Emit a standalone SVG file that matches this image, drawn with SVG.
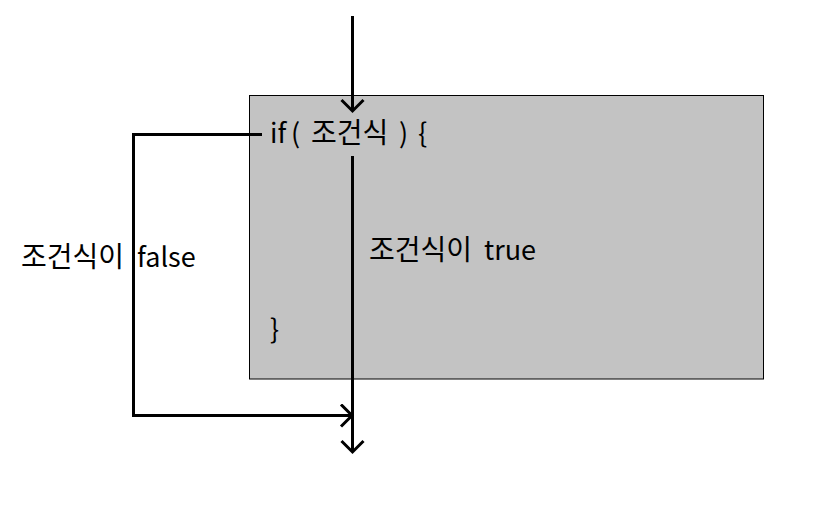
<svg xmlns="http://www.w3.org/2000/svg" width="836" height="512" viewBox="0 0 836 512">
<style>
.t{font-family:"Malgun Gothic","Noto Sans CJK KR","Noto Sans",sans-serif;font-size:27px;fill:#000}
.k{font-size:28px}
.ln{fill:none;stroke:#000;stroke-width:3}
</style>
<defs>
<marker id="v" markerUnits="userSpaceOnUse" markerWidth="30" markerHeight="30" refX="13" refY="12" orient="auto" viewBox="0 0 30 30">
<path d="M2 1 L13 12 L2 23" fill="none" stroke="#000" stroke-width="3"/>
</marker>
</defs>
<rect width="836" height="512" fill="#fff"/>
<g id="box">
<rect x="249.5" y="95.5" width="514" height="283.5" fill="#c3c3c3" stroke="#000" stroke-width="1"/>
<text class="t" y="143"><tspan x="270">if</tspan> <tspan x="291">(</tspan> <tspan class="k" x="311">조건식</tspan> <tspan x="399">)</tspan> <tspan x="418">{</tspan></text>
<text class="t" x="270" y="339">}</text>
</g>
<g id="connectors">
<path class="ln" d="M352.5 16 V111" marker-end="url(#v)"/>
<path class="ln" d="M352.5 156 V452" marker-end="url(#v)"/>
<path class="ln" d="M262 134.5 H133.5 V415.5 H352" marker-end="url(#v)"/>
</g>
<g id="labels">
<text class="t" y="260"><tspan class="k" x="369">조건식이</tspan> <tspan x="484">true</tspan></text>
<text class="t" y="267"><tspan class="k" x="21">조건식이</tspan> <tspan x="137">false</tspan></text>
</g>
</svg>
